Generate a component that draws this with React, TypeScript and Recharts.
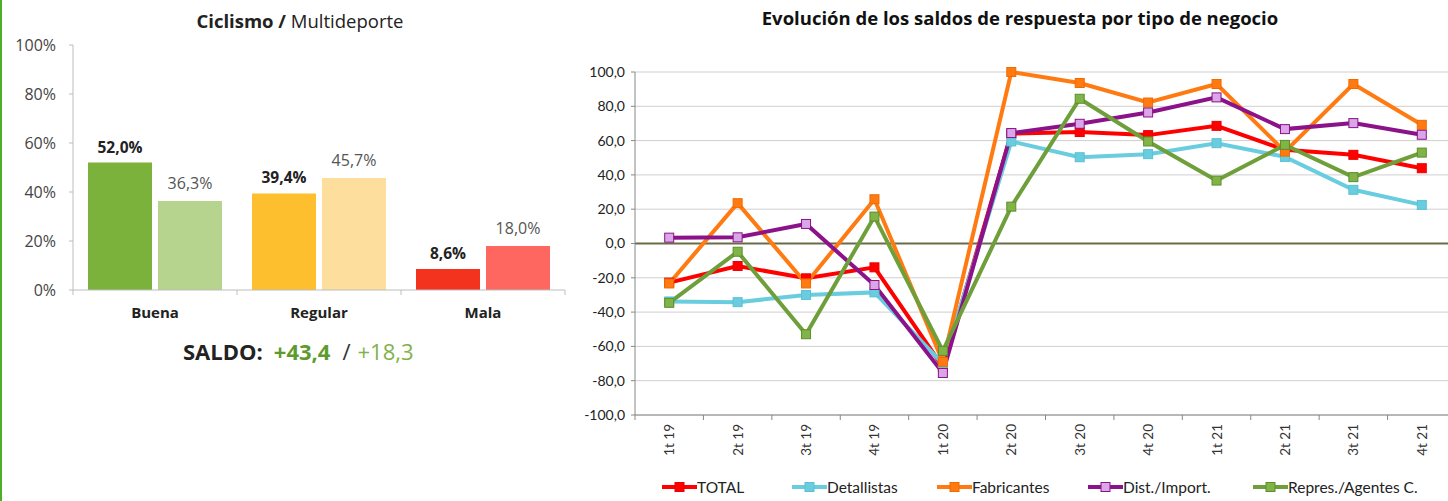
import React from 'react';
import {
  BarChart,
  Bar,
  Cell,
  LabelList,
  LineChart,
  Line,
  XAxis,
  YAxis,
  CartesianGrid,
  ReferenceLine,
} from 'recharts';

// left chart: Ciclismo / Multideporte
const categories = ['Buena', 'Regular', 'Mala'];
const ciclismo = [52.0, 39.4, 8.6];
const multideporte = [36.3, 45.7, 18.0];
const pctTicks = [0, 20, 40, 60, 80, 100];
const darkColors = ['#7AB23B', '#FDBF2E', '#F4331F'];
const lightColors = ['#B6D48E', '#FDDE9C', '#FE6660'];

// right chart: saldos por tipo de negocio
const quarters = ['1t 19', '2t 19', '3t 19', '4t 19', '1t 20', '2t 20', '3t 20', '4t 20', '1t 21', '2t 21', '3t 21', '4t 21'];
const total = [-22.8, -13.1, -20.3, -13.9, -72, 64, 65, 63.2, 68.6, 54.6, 51.7, 43.9];
const detallistas = [-33.8, -34.2, -30, -28.5, -70, 59.5, 50.3, 52.1, 58.5, 50.5, 31.3, 22.5];
const fabricantes = [-23.3, 23.5, -23.3, 25.8, -69, 100, 93.6, 82.2, 93, 53.6, 93, 69.2];
const distImport = [3.4, 3.6, 11.4, -24.2, -75.5, 64.4, 69.8, 76.4, 85.2, 66.7, 70.2, 63.4];
const repres = [-34.6, -4.8, -52.9, 15.7, -62.6, 21.5, 84.4, 59.5, 36.7, 57.5, 38.7, 53];
const saldoTicks = [-100, -80, -60, -40, -20, 0, 20, 40, 60, 80, 100];

const series = [
  { key: 'total', name: 'TOTAL', values: total, stroke: '#FF0000', fill: '#FF0000', border: '#E80000' },
  { key: 'detallistas', name: 'Detallistas', values: detallistas, stroke: '#6ACDDF', fill: '#6ACDDF', border: '#5BC0D4' },
  { key: 'fabricantes', name: 'Fabricantes', values: fabricantes, stroke: '#FF7B12', fill: '#FF7B12', border: '#F06A00' },
  { key: 'dist', name: 'Dist./Import.', values: distImport, stroke: '#8B1288', fill: '#D9A6E8', border: '#8B1288' },
  { key: 'repres', name: 'Repres./Agentes C.', values: repres, stroke: '#6E9F3A', fill: '#80B446', border: '#5E8C2E' },
];
const legendLeft = [662, 792, 937, 1088, 1253];

const barData = categories.map((c, i) => ({ cat: c, ciclismo: ciclismo[i], multi: multideporte[i] }));
const lineData = quarters.map((q, i) => {
  const row: Record<string, any> = { q };
  series.forEach(s => { row[s.key] = s.values[i]; });
  return row;
});

const LEFT_W = 580;
const LEFT_PLOT_L = 73;
const LEFT_PLOT_R = 15;
const LEFT_HALF = (LEFT_W - LEFT_PLOT_L - LEFT_PLOT_R) / categories.length / 2;

const RIGHT_W = 876;
const RIGHT_PLOT_L = 55;
const RIGHT_HALF = (RIGHT_W - RIGHT_PLOT_L) / quarters.length / 2;

const pct = (v: number) => v.toFixed(1).replace('.', ',') + '%';
const dec = (v: number) => v.toFixed(1).replace('.', ',');

const CatTick = (props: any) => {
  const { x, y, payload, index } = props;
  return (
    <g>
      {index === 0 && <line x1={x - LEFT_HALF} x2={x - LEFT_HALF} y1={y} y2={y + 5} stroke="#bdbdbd" />}
      <line x1={x + LEFT_HALF} x2={x + LEFT_HALF} y1={y} y2={y + 5} stroke="#bdbdbd" />
      <text x={x} y={y + 28} textAnchor="middle" fontWeight="bold" fontSize={15} fill="#222"
        fontFamily="'Open Sans', sans-serif">{payload.value}</text>
    </g>
  );
};

const QuarterTick = (props: any) => {
  const { x, y, payload, index } = props;
  return (
    <g>
      {index === 0 && <line x1={x - RIGHT_HALF} x2={x - RIGHT_HALF} y1={y} y2={y + 5} stroke="#888" />}
      <line x1={x + RIGHT_HALF} x2={x + RIGHT_HALF} y1={y} y2={y + 5} stroke="#888" />
      <text transform={`translate(${x + 5},${y + 9}) rotate(-90)`} textAnchor="end" fontSize={13.5} fill="#333"
        fontFamily="Lato, sans-serif">{payload.value}</text>
    </g>
  );
};

const squareDot = (fill: string, border: string) => (p: any) => {
  const { cx, cy, index } = p;
  if (cx == null || cy == null) return <g key={index} />;
  return <rect key={index} x={cx - 4.5} y={cy - 4.5} width={9} height={9} fill={fill} stroke={border} strokeWidth={1} />;
};

export default function App() {
  return (
    <div style={{ position: 'absolute', left: 0, top: 0, width: 1448, height: 501, overflow: 'hidden', background: '#fff' }}>
      <div style={{ position: 'absolute', left: 0, top: 0, width: 2, height: 501, background: '#4CAF2A' }} />

      {/* left chart */}
      <div style={{ position: 'absolute', left: 0, top: 8, width: LEFT_W, textAlign: 'center', paddingLeft: 20, boxSizing: 'border-box',
        fontFamily: "'Open Sans', sans-serif", fontSize: 18.5, color: '#222' }}>
        <b>Ciclismo /</b> Multideporte
      </div>
      <div style={{ position: 'absolute', left: 0, top: 0 }}>
        <BarChart width={LEFT_W} height={330} data={barData} barSize={64} barGap={6}
          margin={{ top: 45, right: LEFT_PLOT_R, bottom: 0, left: 0 }}>
          <XAxis dataKey="cat" tick={<CatTick />} tickLine={false} tickSize={0} tickMargin={0}
            axisLine={{ stroke: '#bdbdbd' }} height={40} interval={0} />
          <YAxis domain={[0, 100]} ticks={pctTicks} width={LEFT_PLOT_L} tickFormatter={(v) => `${v}%`}
            axisLine={{ stroke: '#bdbdbd' }} tickLine={{ stroke: '#bdbdbd' }} tickSize={4} tickMargin={13}
            tick={{ fontSize: 16, fill: '#444', fontFamily: "'Open Sans', sans-serif" }} />
          <Bar dataKey="ciclismo" isAnimationActive={false}>
            {barData.map((_, i) => <Cell key={i} fill={darkColors[i]} />)}
            <LabelList dataKey="ciclismo" position="top" offset={10} formatter={(v: any) => pct(Number(v))}
              style={{ fontSize: 15.5, fontWeight: 'bold', fill: '#222', fontFamily: "'Open Sans', sans-serif" }} />
          </Bar>
          <Bar dataKey="multi" isAnimationActive={false}>
            {barData.map((_, i) => <Cell key={i} fill={lightColors[i]} />)}
            <LabelList dataKey="multi" position="top" offset={12} formatter={(v: any) => pct(Number(v))}
              style={{ fontSize: 16, fill: '#555', fontFamily: "'Open Sans', sans-serif" }} />
          </Bar>
        </BarChart>
      </div>
      <div style={{ position: 'absolute', left: 183, top: 336, fontFamily: "'Open Sans', sans-serif", fontSize: 22, whiteSpace: 'nowrap' }}>
        <b style={{ color: '#222' }}>SALDO:</b>
        <b style={{ color: '#5E9A2E', marginLeft: 11 }}>+43,4</b>
        <span style={{ color: '#333', marginLeft: 12 }}>/</span>
        <span style={{ color: '#7FB24A', marginLeft: 7 }}>+18,3</span>
      </div>

      {/* right chart */}
      <div style={{ position: 'absolute', left: 600, top: 5, width: 840, textAlign: 'center',
        fontFamily: "'Open Sans', sans-serif", fontWeight: 'bold', fontSize: 18.5, color: '#111' }}>
        Evolución de los saldos de respuesta por tipo de negocio
      </div>
      <div style={{ position: 'absolute', left: 580, top: 0 }}>
        <LineChart width={RIGHT_W} height={470} data={lineData}
          margin={{ top: 72, right: 0, bottom: 0, left: 0 }}>
          <CartesianGrid vertical={false} stroke="#cfcfcf" />
          <XAxis dataKey="q" interval={0} tick={<QuarterTick />} tickLine={false} tickSize={0} tickMargin={0}
            axisLine={{ stroke: '#888' }} height={55} padding={{ left: RIGHT_HALF, right: RIGHT_HALF }} />
          <YAxis domain={[-100, 100]} ticks={saldoTicks} width={RIGHT_PLOT_L} tickFormatter={dec}
            axisLine={{ stroke: '#888' }} tickLine={{ stroke: '#888' }} tickSize={4} tickMargin={6}
            tick={{ fontSize: 14, fill: '#222', fontFamily: 'Lato, sans-serif' }} />
          <ReferenceLine y={0} stroke="#6B6B48" strokeWidth={2} />
          {series.map(s => (
            <Line key={s.key} dataKey={s.key} name={s.name} stroke={s.stroke} strokeWidth={4}
              dot={squareDot(s.fill, s.border)} activeDot={false} isAnimationActive={false} />
          ))}
        </LineChart>
      </div>

      {/* legend */}
      {series.map((s, i) => (
        <div key={s.key} style={{ position: 'absolute', left: legendLeft[i], top: 478, display: 'flex', alignItems: 'center',
          fontFamily: 'Lato, sans-serif', fontSize: 15.5, color: '#222', whiteSpace: 'nowrap' }}>
          <svg width={35} height={12}>
            <line x1={0} x2={35} y1={6} y2={6} stroke={s.stroke} strokeWidth={4} />
            <rect x={13} y={1.5} width={9} height={9} fill={s.fill} stroke={s.border} />
          </svg>
          <span>{s.name}</span>
        </div>
      ))}
    </div>
  );
}
